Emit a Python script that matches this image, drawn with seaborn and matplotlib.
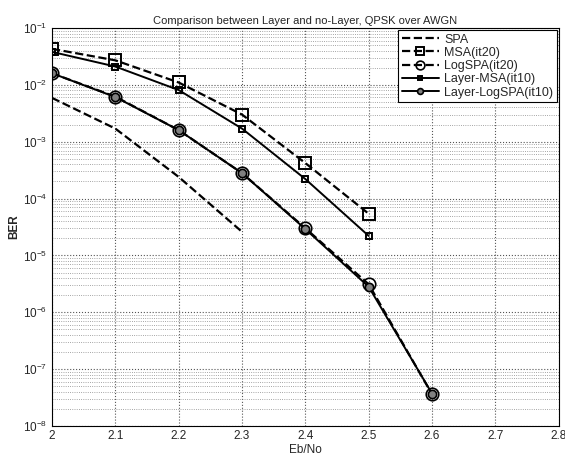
import pandas as pd
import matplotlib
matplotlib.use('Agg')
import matplotlib.pyplot as plt
import seaborn as sns

# Data
ebno = [2.0, 2.1, 2.2, 2.3, 2.4, 2.5, 2.6]
spa_x = [2.0, 2.1, 2.2, 2.3]
spa = [5.9e-3, 1.7e-3, 2.4e-4, 2.6e-5]
msa_x = [2.0, 2.1, 2.2, 2.3, 2.4, 2.5]
msa_it20 = [4.3e-2, 2.7e-2, 1.1e-2, 3.0e-3, 4.2e-4, 5.4e-5]
logspa_it20 = [1.6e-2, 6.2e-3, 1.6e-3, 2.8e-4, 3.0e-5, 3.1e-6, 3.6e-8]
layer_msa = [3.8e-2, 2.1e-2, 8.1e-3, 1.7e-3, 2.2e-4, 2.2e-5]
layer_logspa = [1.6e-2, 6.1e-3, 1.6e-3, 2.8e-4, 2.9e-5, 2.8e-6, 3.7e-8]
xtick_vals = [2.0, 2.1, 2.2, 2.3, 2.4, 2.5, 2.6, 2.7, 2.8]
xtick_labels = ['2', '2.1', '2.2', '2.3', '2.4', '2.5', '2.6', '2.7', '2.8']

sns.set_style("white")
plt.rcParams['font.family'] = ['Liberation Sans', 'DejaVu Sans']

fig = plt.figure(figsize=(5.65, 4.59), dpi=100)
ax = fig.add_axes([0.092, 0.072, 0.897, 0.867])

sns.lineplot(x=spa_x, y=spa, ax=ax, color='black', linestyle='--', linewidth=1.6,
             label='SPA')
sns.lineplot(x=msa_x, y=msa_it20, ax=ax, color='black', linestyle='--', linewidth=1.6,
             marker='s', markersize=8, markerfacecolor='none', markeredgecolor='black',
             markeredgewidth=1.4, label='MSA(it20)')
sns.lineplot(x=ebno, y=logspa_it20, ax=ax, color='black', linestyle='--', linewidth=1.6,
             marker='o', markersize=9, markerfacecolor='none', markeredgecolor='black',
             markeredgewidth=1.2, label='LogSPA(it20)')
sns.lineplot(x=msa_x, y=layer_msa, ax=ax, color='black', linestyle='-', linewidth=1.4,
             marker='s', markersize=5, markerfacecolor='none', markeredgecolor='black',
             markeredgewidth=1.4, label='Layer-MSA(it10)')
sns.lineplot(x=ebno, y=layer_logspa, ax=ax, color='black', linestyle='-', linewidth=1.4,
             marker='o', markersize=6, markerfacecolor='gray', markeredgecolor='black',
             markeredgewidth=1.2, label='Layer-LogSPA(it10)')

ax.set_yscale('log')
ax.set_xlim(2.0, 2.8)
ax.set_ylim(1e-8, 1e-1)
ax.set_xticks(xtick_vals)
ax.set_xticklabels(xtick_labels)
ax.grid(True, which='major', linestyle=':', color='#555555', linewidth=0.8)
ax.grid(True, which='minor', linestyle=':', color='#888888', linewidth=0.6)
ax.tick_params(axis='both', which='major', labelsize=8.5, direction='in', length=3)
ax.tick_params(axis='x', which='major', pad=3)
ax.tick_params(axis='y', which='minor', direction='in', length=2)
for s in ax.spines.values():
    s.set_color('black')
    s.set_linewidth(0.8)

ax.set_title('Comparison between Layer and no-Layer, QPSK over AWGN', fontsize=8, pad=3)
ax.set_xlabel('Eb/No', fontsize=8.5, labelpad=1)
ax.set_ylabel('BER', fontsize=8.5, fontweight='bold', labelpad=2)

leg = ax.legend(loc='upper right', fontsize=9, frameon=True, fancybox=False,
                edgecolor='black', handlelength=3.0, borderpad=0.3,
                labelspacing=0.1, handletextpad=0.4, markerscale=0.7,
                borderaxespad=0.15, framealpha=1)
leg.get_frame().set_linewidth(0.8)

fig.savefig('out.png', dpi=100)
